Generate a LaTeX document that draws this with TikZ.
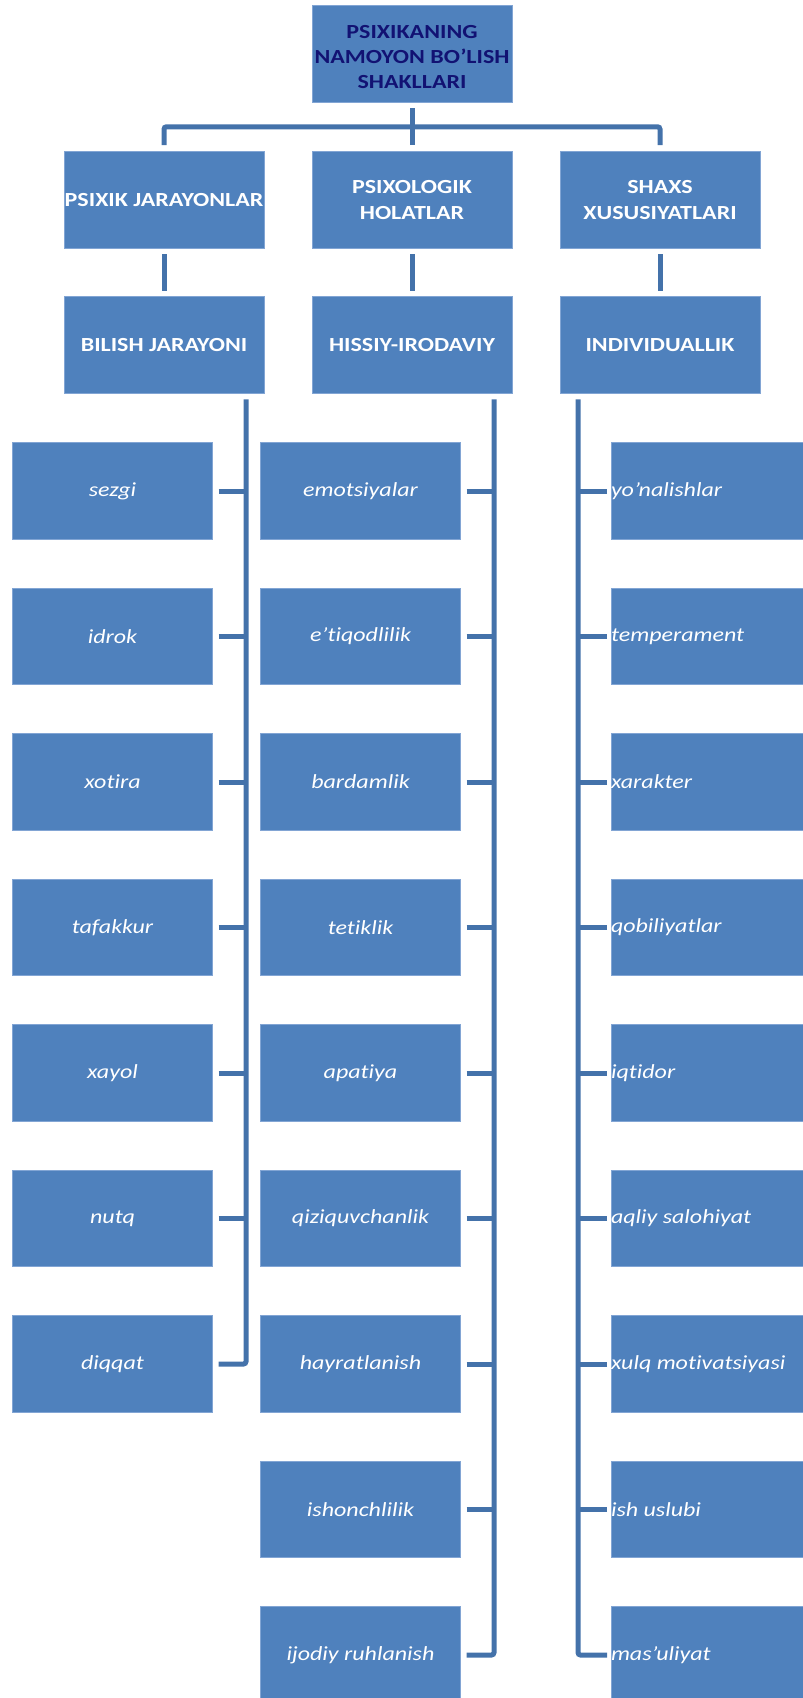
\documentclass[tikz,border=0pt]{standalone}
\usepackage{fontspec}
\setmainfont{Carlito}[FakeStretch=1.2, Ligatures=NoCommon]
\usetikzlibrary{calc}
\definecolor{boxfill}{RGB}{79,129,189}
\definecolor{boxedge}{RGB}{130,165,212}
\definecolor{linkblue}{RGB}{68,114,170}
\definecolor{titlenavy}{RGB}{18,18,115}

\begin{document}
\begin{tikzpicture}[x=1pt,y=-1pt,
  box/.style={rectangle, fill=boxfill, draw=boxedge, line width=0.6pt,
    minimum width=200pt, minimum height=96.5pt, inner sep=0pt, outer sep=0pt,
    text=white, align=center, font=\fontsize{20}{26.5}\selectfont},
  head/.style={box, font=\fontsize{20}{26.5}\selectfont\bfseries},
  item/.style={box, font=\fontsize{20}{26.5}\selectfont\itshape},
  link/.style={draw=linkblue, line width=5pt, rounded corners=2.5pt},
]
\useasboundingbox (0,0) rectangle (803,1698);
\clip (0,0) rectangle (803,1698);

% title and the two header rows
\node[head, text=titlenavy] (top) at (412,54)
  {\raisebox{-3pt}[\height][\depth]{\parbox{200pt}{\centering\fontsize{20}{25}\selectfont
   PSIXIKANING\\NAMOYON BO’LISH\\SHAKLLARI}}};
\node[head] (c1) at (164,200) {PSIXIK JARAYONLAR};
\node[head] (c2) at (412,200) {PSIXOLOGIK\\HOLATLAR};
\node[head] (c3) at (660,200) {SHAXS\\XUSUSIYATLARI};
\node[head] (b1) at (164,345) {BILISH JARAYONI};
\node[head] (b2) at (412,345) {HISSIY-IRODAVIY};
\node[head] (b3) at (660,345) {INDIVIDUALLIK};

% item columns
\foreach \t [count=\i] in {sezgi, idrok, xotira, tafakkur, xayol, nutq, diqqat}
  \node[item] (l\i) at (112.5,{491+145.5*(\i-1)}) {\t};
\foreach \t [count=\i] in {emotsiyalar, e’tiqodlilik, bardamlik, tetiklik, apatiya,
    qiziquvchanlik, hayratlanish, ishonchlilik, ijodiy ruhlanish}
  \node[item] (m\i) at (360.5,{491+145.5*(\i-1)}) {\t};
\foreach \t [count=\i] in {yo’nalishlar, temperament, xarakter, qobiliyatlar, iqtidor,
    aqliy salohiyat, xulq motivatsiyasi, ish uslubi, mas’uliyat}
  \node[item] (r\i) at (711,{491+145.5*(\i-1)}) {\makebox[200pt][l]{\t}};

% title to headers
\draw[link] ($(top.south)+(0,6)$) -- ($(c2.north)+(0,-6.7)$);
\draw[link] ($(c1.north)+(0,-6.7)$) |- ($(c3.north)+(0,-25)$) -- ($(c3.north)+(0,-6.7)$);

% headers to sub-headers
\foreach \n in {1,2,3}
  \draw[link] ($(c\n.south)+(0,6)$) -- ($(b\n.north)+(0,-6)$);

% trunk heads
\coordinate (lt) at ($(b1.south east)+(-18,6)$);
\coordinate (mt) at ($(b2.south east)+(-18,6)$);
\coordinate (rt) at ($(b3.south west)+(18,6)$);

% left trunk
\draw[link] (lt) |- ($(l7.east)+(6,0)$);
\foreach \i in {1,...,6}
  \draw[link] ($(l\i.east)+(6,0)$) -- (l\i.east -| lt);

% middle trunk
\draw[link] (mt) |- ($(m9.east)+(6,0)$);
\foreach \i in {1,...,8}
  \draw[link] ($(m\i.east)+(6,0)$) -- (m\i.east -| mt);

% right trunk
\draw[link] (rt) |- ($(r9.west)+(-4,0)$);
\foreach \i in {1,...,8}
  \draw[link] ($(r\i.west)+(-4,0)$) -- (r\i.west -| rt);
\end{tikzpicture}
\end{document}
